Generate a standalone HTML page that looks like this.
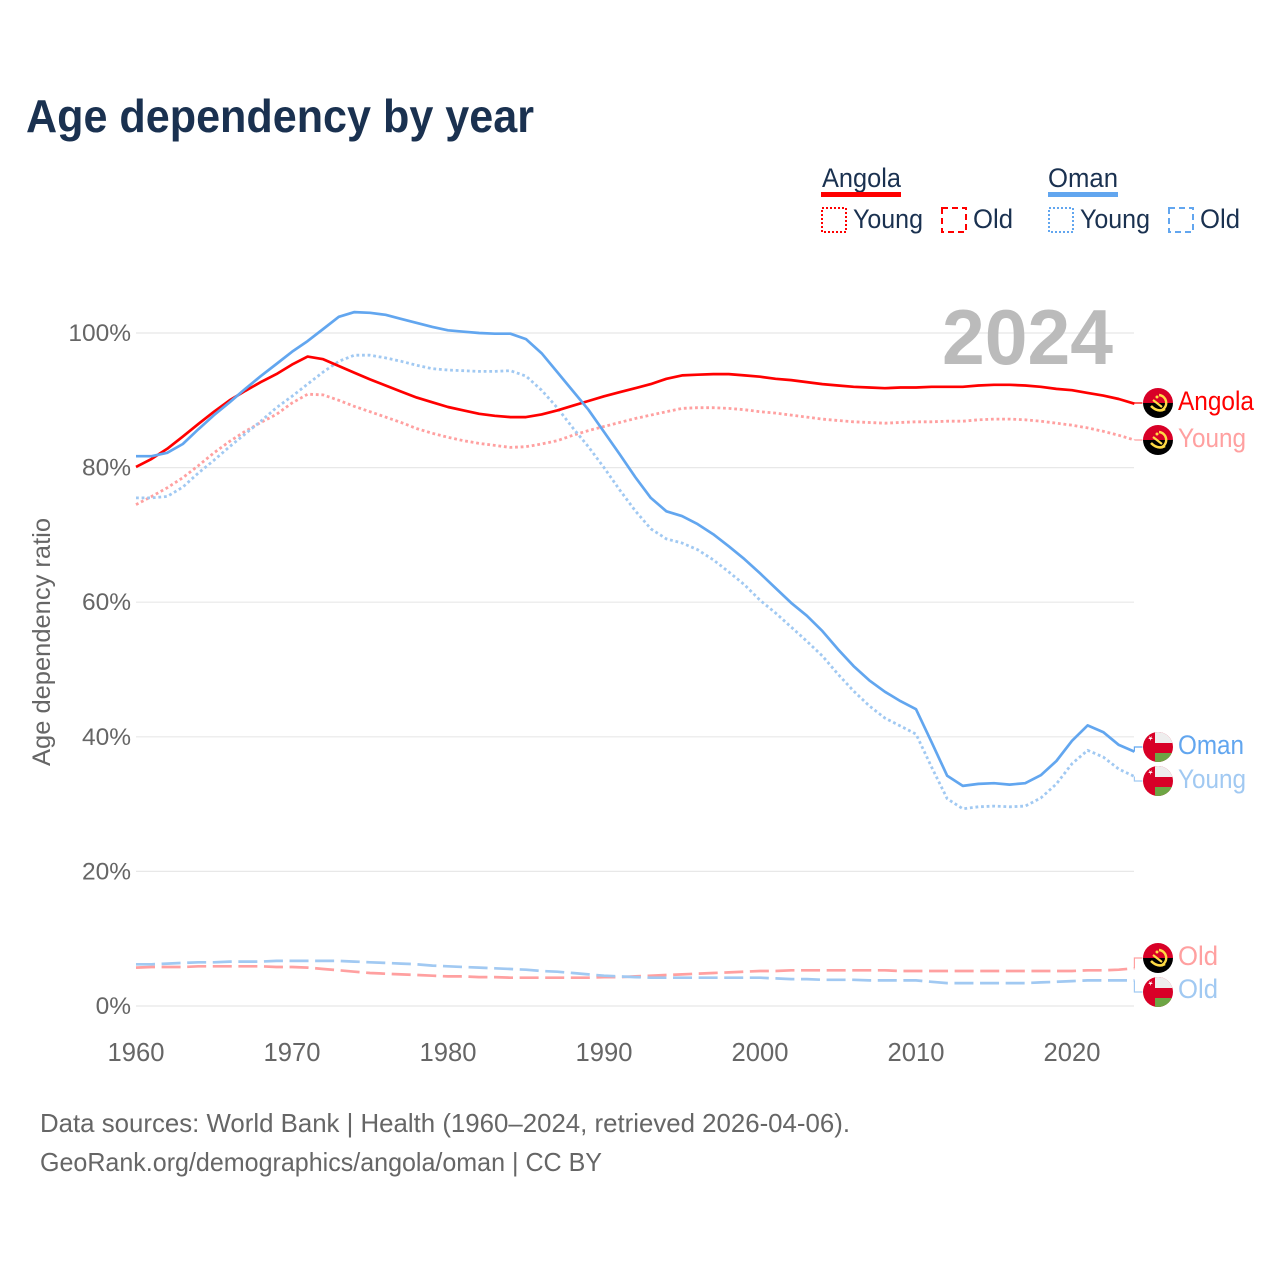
<!DOCTYPE html>
<html lang="en">
<head>
<meta charset="utf-8">
<title>Age dependency by year</title>
<style>
html,body{margin:0;padding:0;background:#fff;width:1280px;height:1280px;overflow:hidden}
svg{display:block;font-family:"Liberation Sans",sans-serif}
</style>
</head>
<body>
<svg id="chart" xmlns="http://www.w3.org/2000/svg" width="1280" height="1280" viewBox="0 0 1280 1280">
  <defs>
    <clipPath id="flag-clip"><circle cx="0" cy="0" r="15"/></clipPath>
    <symbol id="flag-angola" overflow="visible">
      <g clip-path="url(#flag-clip)">
        <rect x="-15" y="-15" width="30" height="15" fill="#d80027"/>
        <rect x="-15" y="0" width="30" height="15" fill="#000"/>
        <path d="M1 -8 A8 8 0 0 1 4 7" fill="none" stroke="#ffda44" stroke-width="2.4"/>
        <path d="M-7 3 Q0 10 7 6" fill="none" stroke="#ffda44" stroke-width="2.6"/>
        <path d="M-5 -3 L4 4" stroke="#ffda44" stroke-width="2.2"/>
        <circle cx="-1" cy="-6" r="1.5" fill="#ffda44"/>
      </g>
    </symbol>
    <symbol id="flag-oman" overflow="visible">
      <g clip-path="url(#flag-clip)">
        <rect x="-15" y="-15" width="30" height="30" fill="#d80027"/>
        <rect x="-3" y="-15" width="18" height="11" fill="#eeeeee"/>
        <rect x="-3" y="6" width="18" height="9" fill="#6da544"/>
        <path d="M-9 -11 L-7.5 -9.5 L-6 -11 L-6.6 -9 L-5 -8 L-7 -8 L-7.5 -6 L-8 -8 L-10 -8 L-8.4 -9 Z" fill="#fff"/>
      </g>
    </symbol>
  </defs>

  <text x="26" y="132" font-size="46" font-weight="700" fill="#1a3150" textLength="508" lengthAdjust="spacingAndGlyphs">Age dependency by year</text>

  <g id="grid"></g>
  <g id="y-ticks"></g>
  <g id="x-ticks"></g>
  <text transform="translate(50 642) rotate(-90)" text-anchor="middle" font-size="25" fill="#666" textLength="248" lengthAdjust="spacingAndGlyphs">Age dependency ratio</text>
  <text id="year-label" x="942" y="364" font-size="78" font-weight="700" fill="#bbbbbb" textLength="171" lengthAdjust="spacingAndGlyphs">2024</text>
  <g id="series"></g>

  <g font-size="27" fill="#1a3150">
    <g>
      <text x="822" y="187" textLength="79" lengthAdjust="spacingAndGlyphs">Angola</text>
      <rect x="821" y="192" width="80" height="5" fill="#ff0000"/>
    </g>
    <g>
      <rect x="822" y="208" width="24" height="24" fill="none" stroke="#ff0000" stroke-width="2" stroke-dasharray="2 2"/>
      <text x="853" y="228" textLength="70" lengthAdjust="spacingAndGlyphs">Young</text>
    </g>
    <g>
      <rect x="942" y="208" width="24" height="24" fill="none" stroke="#ff0000" stroke-width="2" stroke-dasharray="6 4"/>
      <text x="973" y="228" textLength="40" lengthAdjust="spacingAndGlyphs">Old</text>
    </g>
    <g>
      <text x="1048" y="187" textLength="70" lengthAdjust="spacingAndGlyphs">Oman</text>
      <rect x="1048" y="192" width="70" height="5" fill="#62a6ef"/>
    </g>
    <g>
      <rect x="1049" y="208" width="24" height="24" fill="none" stroke="#62a6ef" stroke-width="2" stroke-dasharray="2 2"/>
      <text x="1080" y="228" textLength="70" lengthAdjust="spacingAndGlyphs">Young</text>
    </g>
    <g>
      <rect x="1169" y="208" width="24" height="24" fill="none" stroke="#62a6ef" stroke-width="2" stroke-dasharray="6 4"/>
      <text x="1200" y="228" textLength="40" lengthAdjust="spacingAndGlyphs">Old</text>
    </g>
  </g>

  <g font-size="27">
    <use href="#flag-angola" x="1158" y="403"/>
    <text x="1178" y="410" fill="#ff0000" textLength="76" lengthAdjust="spacingAndGlyphs">Angola</text>
    <use href="#flag-angola" x="1158" y="440"/>
    <text x="1178" y="447" fill="#ffa0a0" textLength="68" lengthAdjust="spacingAndGlyphs">Young</text>
    <use href="#flag-oman" x="1158" y="747"/>
    <text x="1178" y="754" fill="#62a6ef" textLength="66" lengthAdjust="spacingAndGlyphs">Oman</text>
    <use href="#flag-oman" x="1158" y="781"/>
    <text x="1178" y="788" fill="#a1c9f2" textLength="68" lengthAdjust="spacingAndGlyphs">Young</text>
    <use href="#flag-angola" x="1158" y="958"/>
    <text x="1178" y="965" fill="#ffa0a0" textLength="40" lengthAdjust="spacingAndGlyphs">Old</text>
    <use href="#flag-oman" x="1158" y="992"/>
    <text x="1178" y="998" fill="#a1c9f2" textLength="40" lengthAdjust="spacingAndGlyphs">Old</text>
  </g>

  <text x="40" y="1132" font-size="26" fill="#666" textLength="810" lengthAdjust="spacingAndGlyphs">Data sources: World Bank | Health (1960–2024, retrieved 2026-04-06).</text>
  <text x="40" y="1171" font-size="26" fill="#666" textLength="562" lengthAdjust="spacingAndGlyphs">GeoRank.org/demographics/angola/oman | CC BY</text>
</svg>

<script>
const startYear = 1960;
const yTicks = [0, 20, 40, 60, 80, 100];
const xTicks = [1960, 1970, 1980, 1990, 2000, 2010, 2020];

const angolaTotal = [80.1,81.3,82.8,84.6,86.5,88.3,90.0,91.4,92.7,93.9,95.3,96.5,96.1,95.1,94.1,93.1,92.2,91.3,90.4,89.7,89.0,88.5,88.0,87.7,87.5,87.5,87.9,88.5,89.2,89.9,90.6,91.2,91.8,92.4,93.2,93.7,93.8,93.9,93.9,93.7,93.5,93.2,93.0,92.7,92.4,92.2,92.0,91.9,91.8,91.9,91.9,92.0,92.0,92.0,92.2,92.3,92.3,92.2,92.0,91.7,91.5,91.1,90.7,90.2,89.5];
const angolaYoung = [74.5,75.7,77.0,78.5,80.3,82.2,83.9,85.4,86.7,87.9,89.6,90.9,90.8,90.0,89.1,88.3,87.5,86.7,85.8,85.1,84.5,84.0,83.6,83.3,83.0,83.1,83.5,84.0,84.8,85.5,86.1,86.7,87.3,87.8,88.3,88.8,88.9,88.9,88.8,88.6,88.3,88.1,87.8,87.5,87.2,87.0,86.8,86.7,86.6,86.7,86.8,86.8,86.9,86.9,87.1,87.2,87.2,87.1,86.9,86.6,86.3,85.9,85.4,84.8,84.1];
const angolaOld = [5.7,5.8,5.8,5.8,5.9,5.9,5.9,5.9,5.9,5.8,5.8,5.7,5.5,5.3,5.1,4.9,4.8,4.7,4.6,4.5,4.4,4.4,4.3,4.3,4.2,4.2,4.2,4.2,4.2,4.2,4.3,4.3,4.4,4.5,4.6,4.7,4.8,4.9,5.0,5.1,5.2,5.2,5.3,5.3,5.3,5.3,5.3,5.3,5.3,5.2,5.2,5.2,5.2,5.2,5.2,5.2,5.2,5.2,5.2,5.2,5.2,5.3,5.3,5.4,5.6];
const omanTotal = [81.7,81.7,82.2,83.5,85.7,87.8,89.7,91.7,93.6,95.4,97.2,98.8,100.6,102.4,103.1,103.0,102.7,102.1,101.5,100.9,100.4,100.2,100.0,99.9,99.9,99.1,97.0,94.2,91.4,88.6,85.3,82.0,78.6,75.5,73.5,72.8,71.6,70.1,68.3,66.4,64.3,62.1,59.9,58.0,55.7,53.0,50.5,48.4,46.7,45.3,44.1,39.2,34.2,32.7,33.0,33.1,32.9,33.1,34.3,36.4,39.4,41.7,40.7,38.8,37.8];
const omanYoung = [75.5,75.5,75.7,77.1,79.2,81.1,83.1,85.0,86.9,88.9,90.6,92.4,94.2,95.8,96.7,96.7,96.3,95.8,95.2,94.7,94.5,94.4,94.3,94.3,94.4,93.6,91.5,88.9,85.9,83.1,80.0,76.7,73.6,70.9,69.4,68.8,67.8,66.3,64.5,62.6,60.3,58.4,56.3,54.2,52.0,49.3,46.8,44.6,42.8,41.6,40.4,35.5,30.8,29.3,29.6,29.7,29.6,29.7,30.9,33.0,36.0,38.0,37.0,35.2,34.1];
const omanOld = [6.2,6.2,6.3,6.4,6.5,6.5,6.6,6.6,6.6,6.7,6.7,6.7,6.7,6.7,6.6,6.5,6.4,6.3,6.2,6.0,5.9,5.8,5.7,5.6,5.5,5.4,5.2,5.1,4.9,4.7,4.5,4.4,4.3,4.2,4.2,4.2,4.2,4.2,4.2,4.2,4.2,4.1,4.0,4.0,3.9,3.9,3.9,3.8,3.8,3.8,3.8,3.6,3.4,3.4,3.4,3.4,3.4,3.4,3.5,3.6,3.7,3.8,3.8,3.8,3.8];

const NS = 'http://www.w3.org/2000/svg';
const xScale = function (year) { return 136 + (year - 1960) * 15.6; };
const yScale = function (pct) { return 1006 - pct * 6.73; };

function make(tag, parent, attrs) {
  const el = document.createElementNS(NS, tag);
  Object.keys(attrs).forEach(function (k) { el.setAttribute(k, attrs[k]); });
  parent.appendChild(el);
  return el;
}

const gridGroup = document.getElementById('grid');
const yTickGroup = document.getElementById('y-ticks');
yTicks.forEach(function (t) {
  const line = make('line', gridGroup, { x1: 136, x2: 1134, y1: yScale(t), y2: yScale(t), stroke: '#e8e8e8', 'stroke-width': 1.2 });
  
  
  const label = make('text', yTickGroup, { x: 131, y: yScale(t) + 8, 'text-anchor': 'end', 'font-size': 24.5, fill: '#666' });
  
  
  label.textContent = t + '%';
});

const xTickGroup = document.getElementById('x-ticks');
xTicks.forEach(function (t) {
  const label = make('text', xTickGroup, { x: xScale(t), y: 1061, 'text-anchor': 'middle', 'font-size': 25.6, fill: '#666' });
  
  
  label.textContent = t;
});

const seriesGroup = document.getElementById('series');
function drawSeries(name, values, color, dash, width, labelY) {
  const pts = values.map(function (v, i) { return xScale(startYear + i).toFixed(1) + ',' + yScale(v).toFixed(1); });
  const attrs = { points: pts.join(' '), fill: 'none', stroke: color, 'stroke-width': width, 'stroke-linejoin': 'round' };
  if (dash) { attrs['stroke-dasharray'] = dash; }
  const line = make('polyline', seriesGroup, attrs);
  
  
  const endX = xScale(startYear + values.length - 1);
  const endY = yScale(values[values.length - 1]);
  const conn = make('polyline', seriesGroup, {
    points: endX + ',' + endY + ' ' + endX + ',' + labelY + ' ' + (endX + 8) + ',' + labelY,
    fill: 'none', stroke: color, 'stroke-width': 1.2
  });
  
  
}

drawSeries('angola-old-line', angolaOld, '#ffa0a0', '19 6.6', 2.7, 958);
drawSeries('oman-old-line', omanOld, '#a1c9f2', '19 6.6', 2.7, 992);
drawSeries('angola-young-line', angolaYoung, '#ffa0a0', '2.8 2.8', 2.8, 440);
drawSeries('oman-young-line', omanYoung, '#a1c9f2', '2.8 2.8', 2.8, 781);
drawSeries('angola-total-line', angolaTotal, '#ff0000', null, 2.7, 403);
drawSeries('oman-total-line', omanTotal, '#62a6ef', null, 2.7, 747);
</script>
</body>
</html>
